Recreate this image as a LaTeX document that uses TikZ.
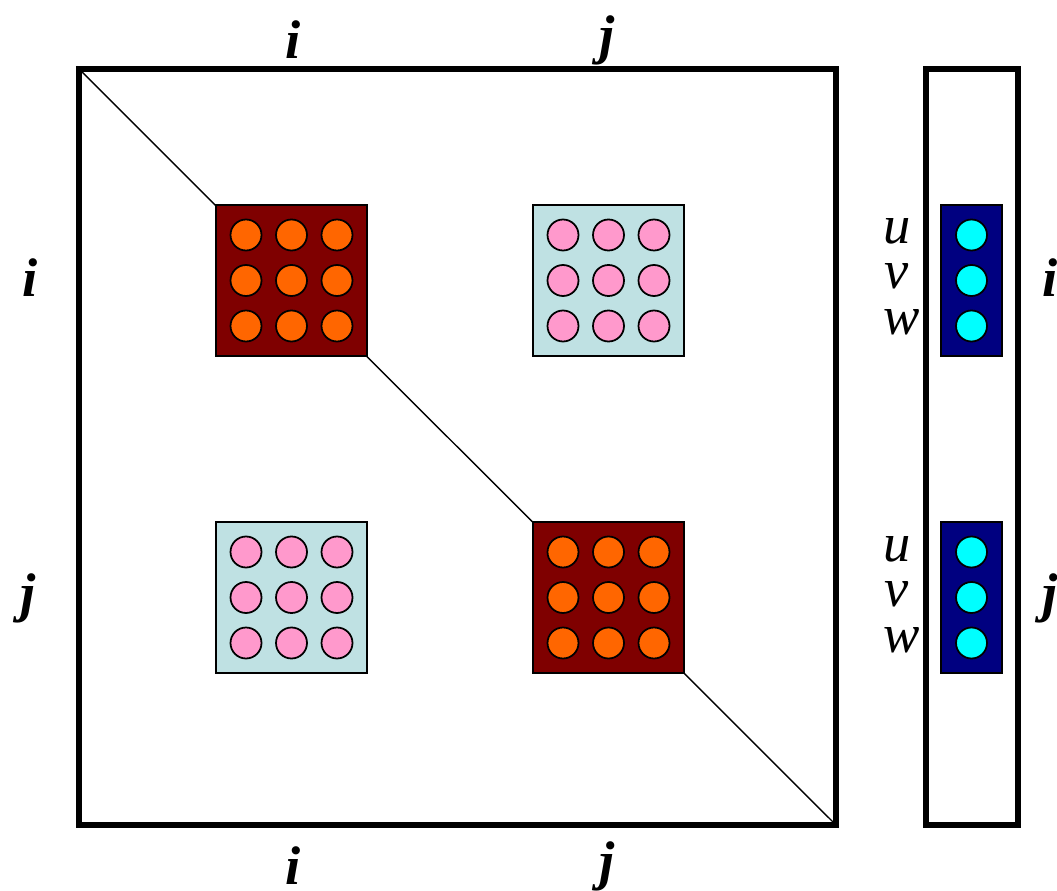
\documentclass[tikz,border=0pt]{standalone}
\usepackage{fontspec}
\setmainfont{Liberation Serif}
\usepackage{xcolor}
\usetikzlibrary{positioning,calc}

\definecolor{blockred}{HTML}{7F0000}
\definecolor{dotorange}{HTML}{FF6600}
\definecolor{blockcyan}{HTML}{BFE1E3}
\definecolor{dotpink}{HTML}{FF99CC}
\definecolor{blocknavy}{HTML}{000080}
\definecolor{dotcyan}{HTML}{00FFFF}

\begin{document}
\begin{tikzpicture}[
    x=0.02cm, y=-0.02cm,
    frame/.style = {
        rectangle,
        draw=black,
        line width=0.105cm,
        inner sep=0pt
    },
    block/.style = {
        rectangle,
        draw=black,
        line width=0.6pt,
        inner sep=0pt,
        minimum width=3.02cm,
        minimum height=3.02cm
    },
    vblock/.style = {
        block,
        minimum width=1.22cm
    },
    dot/.style = {
        circle,
        draw=black,
        line width=1pt,
        inner sep=0pt,
        minimum size=0.62cm
    },
    index/.style = {
        inner sep=0pt,
        font=\fontsize{31}{34}\selectfont\bfseries\itshape
    },
    comp/.style = {
        inner sep=0pt,
        font=\fontsize{31}{34}\selectfont\itshape
    }
]
    \useasboundingbox (0,0) rectangle (1057,891);

    % Frames
    \node [frame, minimum width=15.14cm, minimum height=15.12cm] (mat) at (457.5,447) {};
    \node [frame, minimum width=1.84cm, minimum height=15.12cm] (vec) at (972,447) {};

    % Diagonal
    \draw [line width=0.8pt] (mat.north west) -- (mat.south east);

    % Blocks of the matrix
    \node [block, fill=blockred] (ii) at (291.5,280.5) {};
    \node [block, fill=blockcyan] (ij) at (608.5,280.5) {};
    \node [block, fill=blockcyan] (ji) at (291.5,597.5) {};
    \node [block, fill=blockred] (jj) at (608.5,597.5) {};

    % Blocks of the vector
    \node [vblock, fill=blocknavy] (vi) at (971.5,280.5) {};
    \node [vblock, fill=blocknavy] (vj) at (971.5,597.5) {};

    % Entries
    \foreach \b/\c in {ii/dotorange, ij/dotpink, ji/dotpink, jj/dotorange} {
        \foreach \r in {-1,0,1} {
            \foreach \s in {-1,0,1} {
                \node [dot, fill=\c] at ($(\b)+(45.5*\s,45.5*\r)$) {};
            }
        }
    }
    \foreach \b in {vi,vj} {
        \foreach \r in {-1,0,1} {
            \node [dot, fill=dotcyan] at ($(\b)+(0,45.5*\r)$) {};
        }
    }

    % Labels
    \node [index] (top_i) at (293,40) {i};
    \node [index] (top_j) at (607,40) {j};
    \node [index] (bot_i) at (293,866) {i};
    \node [index] (bot_j) at (607,866) {j};
    \node [index] (left_i) at (30,278) {i};
    \node [index] (left_j) at (28,598) {j};
    \node [index] (right_i) at (1050,278) {i};
    \node [index] (right_j) at (1050,598) {j};

    \node [comp] (u_i) at (897,231) {u};
    \node [comp] (v_i) at (897,276) {v};
    \node [comp] (w_i) at (902,322) {w};
    \node [comp] (u_j) at (897,549) {u};
    \node [comp] (v_j) at (897,594) {v};
    \node [comp] (w_j) at (902,640) {w};

\end{tikzpicture}
\end{document}
